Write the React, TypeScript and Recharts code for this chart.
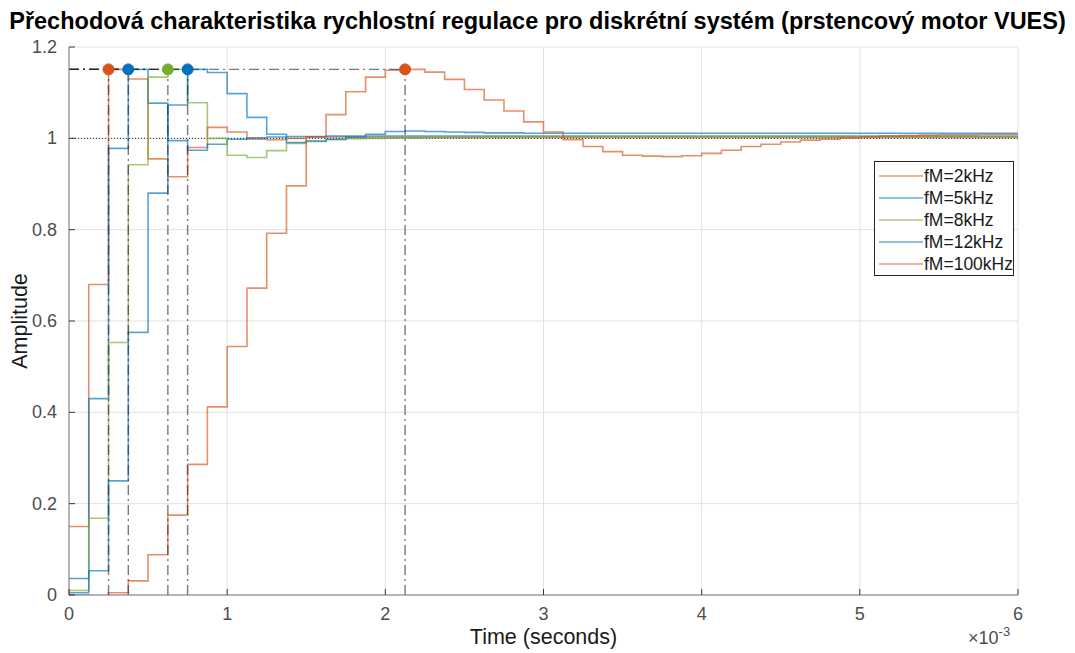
import React from 'react';
import {
  LineChart,
  Line,
  XAxis,
  YAxis,
  CartesianGrid,
  ReferenceLine,
  ReferenceDot,
  Legend,
} from 'recharts';

// Discrete step responses of the speed loop, sampled every 0.125 ms
const SAMPLE_PERIOD_US = 125;

const timeTicks = [0, 0.001, 0.002, 0.003, 0.004, 0.005, 0.006];
const timeTickLabels = ['0', '1', '2', '3', '4', '5', '6'];
const ampTicks = [0, 0.2, 0.4, 0.6, 0.8, 1, 1.2];
const ampTickLabels = ['0', '0.2', '0.4', '0.6', '0.8', '1', '1.2'];

const seriesNames = ['fM=2kHz', 'fM=5kHz', 'fM=8kHz', 'fM=12kHz', 'fM=100kHz'];
const seriesColors = ['#D95319', '#0072BD', '#77AC30', '#0072BD', '#D95319'];

const fM2kHz = [
  0.15, 0.68, 1.151, 1.13, 0.955, 0.916, 0.98, 1.024, 1.014, 0.998,
  0.997, 1.0, 1.003, 1.003, 1.002, 1.002, 1.002, 1.002, 1.002, 1.002,
  1.002, 1.002, 1.002, 1.002, 1.002, 1.002, 1.002, 1.002, 1.002, 1.002,
  1.002, 1.002, 1.002, 1.002, 1.002, 1.002, 1.002, 1.002, 1.002, 1.002,
  1.002, 1.002, 1.002, 1.002, 1.002, 1.002, 1.002, 1.002, 1.002,
];
const fM5kHz = [
  0.036, 0.43, 0.978, 1.151, 1.077, 0.995, 0.974, 0.987, 0.998, 1.001,
  1.003, 1.004, 1.004, 1.005, 1.005, 1.005, 1.005, 1.005, 1.005, 1.005,
  1.005, 1.005, 1.005, 1.005, 1.005, 1.005, 1.005, 1.005, 1.005, 1.005,
  1.005, 1.005, 1.005, 1.005, 1.005, 1.005, 1.005, 1.005, 1.005, 1.005,
  1.005, 1.005, 1.005, 1.005, 1.005, 1.005, 1.005, 1.005, 1.005,
];
const fM8kHz = [
  0.01, 0.168, 0.553, 0.942, 1.134, 1.151, 1.078, 1.0, 0.963, 0.958,
  0.973, 0.989, 0.993, 0.997, 0.999, 1.0, 1.001, 1.001, 1.002, 1.002,
  1.002, 1.003, 1.003, 1.003, 1.003, 1.003, 1.003, 1.003, 1.003, 1.003,
  1.003, 1.003, 1.003, 1.003, 1.003, 1.003, 1.003, 1.003, 1.003, 1.003,
  1.003, 1.003, 1.003, 1.003, 1.003, 1.003, 1.003, 1.003, 1.003,
];
const fM12kHz = [
  0.005, 0.053, 0.25, 0.575, 0.88, 1.073, 1.151, 1.144, 1.098, 1.046,
  1.009, 0.991, 0.994, 0.998, 1.003, 1.009, 1.015, 1.016, 1.015, 1.014,
  1.013, 1.012, 1.012, 1.011, 1.011, 1.011, 1.011, 1.011, 1.011, 1.011,
  1.011, 1.011, 1.011, 1.011, 1.011, 1.011, 1.011, 1.011, 1.011, 1.011,
  1.011, 1.011, 1.011, 1.011, 1.011, 1.011, 1.011, 1.011, 1.011,
];
const fM100kHz = [
  0.0, -0.005, 0.005, 0.031, 0.088, 0.175, 0.286, 0.412, 0.544, 0.672,
  0.792, 0.896, 1.003, 1.052, 1.102, 1.134, 1.149, 1.151, 1.145, 1.129,
  1.107, 1.084, 1.06, 1.036, 1.014, 0.997, 0.982, 0.971, 0.963, 0.961,
  0.96, 0.962, 0.967, 0.974, 0.982, 0.987, 0.992, 0.996, 0.998, 1.001,
  1.003, 1.005, 1.006, 1.007, 1.008, 1.008, 1.009, 1.009, 1.009,
];

const seriesValues = [fM2kHz, fM5kHz, fM8kHz, fM12kHz, fM100kHz];
const seriesKeys = ['s2', 's5', 's8', 's12', 's100'];

const rows = fM2kHz.map((_, k) => {
  const row: Record<string, number> = { t: (k * SAMPLE_PERIOD_US) / 1e6 };
  seriesKeys.forEach((key, i) => {
    row[key] = seriesValues[i][k];
  });
  return row;
});

// peak of each response (value and time of the sample where it occurs)
const peaks = seriesValues.map((vals, i) => {
  let idx = 0;
  vals.forEach((v, k) => {
    if (v > vals[idx]) idx = k;
  });
  return { t: (idx * SAMPLE_PERIOD_US) / 1e6, v: vals[idx], color: seriesColors[i] };
});

const FONT = '"Liberation Sans", Arial, Helvetica, sans-serif';
const AXIS_COLOR = '#7a7a7a';
const TICK_COLOR = '#3a3a3a';
const LABEL_COLOR = '#4d4d4d';
const TICK_LEN = 6;

const BottomTick = (props: any) => {
  const { x, y, index } = props;
  return (
    <g>
      <line x1={x} y1={y} x2={x} y2={y - TICK_LEN} stroke={TICK_COLOR} />
      <text x={x} y={y + 25} textAnchor="middle" fill={LABEL_COLOR} fontSize={18} fontFamily={FONT}>
        {timeTickLabels[index]}
      </text>
    </g>
  );
};

const TopTick = (props: any) => {
  const { x, y } = props;
  return <line x1={x} y1={y} x2={x} y2={y + TICK_LEN} stroke={TICK_COLOR} />;
};

const LeftTick = (props: any) => {
  const { x, y, index } = props;
  return (
    <g>
      <line x1={x} y1={y} x2={x + TICK_LEN} y2={y} stroke={TICK_COLOR} />
      <text x={x - 12} y={y + 6} textAnchor="end" fill={LABEL_COLOR} fontSize={18} fontFamily={FONT}>
        {ampTickLabels[index]}
      </text>
    </g>
  );
};

const RightTick = (props: any) => {
  const { x, y } = props;
  return <line x1={x} y1={y} x2={x - TICK_LEN} y2={y} stroke={TICK_COLOR} />;
};

const LegendBox = (props: any) => {
  const items = [...(props.payload || [])].sort(
    (a: any, b: any) => seriesNames.indexOf(a.value) - seriesNames.indexOf(b.value)
  );
  return (
    <div
      style={{
        border: '1px solid #262626',
        background: '#fff',
        boxSizing: 'border-box',
        width: 140,
        height: 115,
        paddingTop: 3,
        fontFamily: FONT,
        fontSize: 17.5,
        color: '#1a1a1a',
      }}
    >
      {items.map((entry: any) => (
        <div key={entry.value} style={{ display: 'flex', alignItems: 'center', height: 22 }}>
          <svg width={49} height={10} style={{ display: 'block' }}>
            <line x1={4} y1={5} x2={48} y2={5} stroke={entry.color} strokeOpacity={0.6} strokeWidth={1.4} />
          </svg>
          <span style={{ lineHeight: '22px', whiteSpace: 'nowrap' }}>{entry.value}</span>
        </div>
      ))}
    </div>
  );
};

const dashDot = '10 4 2 4';

export default function App() {
  return (
    <div style={{ position: 'absolute', left: 0, top: 0, width: 1075, height: 653, background: '#fff' }}>
      <div
        style={{
          position: 'absolute',
          left: 0,
          top: 6,
          width: 1075,
          textAlign: 'center',
          fontFamily: FONT,
          fontWeight: 'bold',
          fontSize: 23.5,
          lineHeight: '30px',
          color: '#000',
          whiteSpace: 'nowrap',
        }}
      >
        Přechodová charakteristika rychlostní regulace pro diskrétní systém (prstencový motor VUES)
      </div>
      <LineChart
        width={1075}
        height={653}
        data={rows}
        margin={{ top: 47, right: 57, bottom: 28, left: 9 }}
      >
        <CartesianGrid stroke="#e1e1e1" />
        <XAxis
          dataKey="t"
          type="number"
          domain={[0, 0.006]}
          ticks={timeTicks}
          allowDataOverflow
          height={30}
          tickSize={0}
          tickMargin={0}
          tickLine={false}
          axisLine={{ stroke: AXIS_COLOR }}
          tick={<BottomTick />}
          interval={0}
        />
        <XAxis
          xAxisId="top"
          orientation="top"
          dataKey="t"
          type="number"
          domain={[0, 0.006]}
          ticks={timeTicks}
          allowDataOverflow
          height={0}
          tickSize={0}
          tickMargin={0}
          tickLine={false}
          axisLine={{ stroke: AXIS_COLOR }}
          tick={<TopTick />}
          interval={0}
        />
        <YAxis
          type="number"
          domain={[0, 1.2]}
          ticks={ampTicks}
          allowDataOverflow
          width={60}
          tickSize={0}
          tickMargin={0}
          tickLine={false}
          axisLine={{ stroke: AXIS_COLOR }}
          tick={<LeftTick />}
          interval={0}
        />
        <YAxis
          yAxisId="right"
          orientation="right"
          type="number"
          domain={[0, 1.2]}
          ticks={ampTicks}
          allowDataOverflow
          width={0}
          tickSize={0}
          tickMargin={0}
          tickLine={false}
          axisLine={{ stroke: AXIS_COLOR }}
          tick={<RightTick />}
          interval={0}
        />
        <ReferenceLine y={1} stroke="#222" strokeDasharray="1 2" strokeWidth={1} />
        {seriesKeys.map((key, i) => (
          <Line
            key={key}
            dataKey={key}
            name={seriesNames[i]}
            type="stepAfter"
            stroke={seriesColors[i]}
            strokeOpacity={0.65}
            strokeWidth={1.6}
            dot={false}
            activeDot={false}
            isAnimationActive={false}
          />
        ))}
        {peaks.map((p, i) => (
          <ReferenceLine
            key={'h' + i}
            segment={[
              { x: 0, y: p.v },
              { x: p.t, y: p.v },
            ]}
            stroke="#222"
            strokeOpacity={0.6}
            strokeWidth={1.4}
            strokeDasharray={dashDot}
          />
        ))}
        {peaks.map((p, i) => (
          <ReferenceLine
            key={'v' + i}
            segment={[
              { x: p.t, y: 0 },
              { x: p.t, y: p.v },
            ]}
            stroke="#222"
            strokeOpacity={0.6}
            strokeWidth={1.4}
            strokeDasharray={dashDot}
          />
        ))}
        {peaks.map((p, i) => (
          <ReferenceDot key={'d' + i} x={p.t} y={p.v} r={5.5} fill={p.color} stroke={p.color} />
        ))}
        <Legend
          layout="vertical"
          align="center"
          verticalAlign="middle"
          wrapperStyle={{ left: 874, top: 161, width: 140, height: 115 }}
          content={<LegendBox />}
        />
      </LineChart>
      <div
        style={{
          position: 'absolute',
          left: 69,
          width: 949,
          top: 624,
          textAlign: 'center',
          fontFamily: FONT,
          fontSize: 21.5,
          lineHeight: '26px',
          color: '#1a1a1a',
        }}
      >
        Time (seconds)
      </div>
      <div
        style={{
          position: 'absolute',
          left: 20,
          top: 321,
          transform: 'translate(-50%, -50%) rotate(-90deg)',
          fontFamily: FONT,
          fontSize: 21.5,
          lineHeight: '26px',
          color: '#1a1a1a',
          whiteSpace: 'nowrap',
        }}
      >
        Amplitude
      </div>
      <div
        style={{
          position: 'absolute',
          left: 968,
          top: 627,
          fontFamily: FONT,
          fontSize: 18,
          lineHeight: '22px',
          color: LABEL_COLOR,
          whiteSpace: 'nowrap',
        }}
      >
        ×10<sup style={{ fontSize: 13, verticalAlign: 'top', position: 'relative', top: -6 }}>-3</sup>
      </div>
    </div>
  );
}
